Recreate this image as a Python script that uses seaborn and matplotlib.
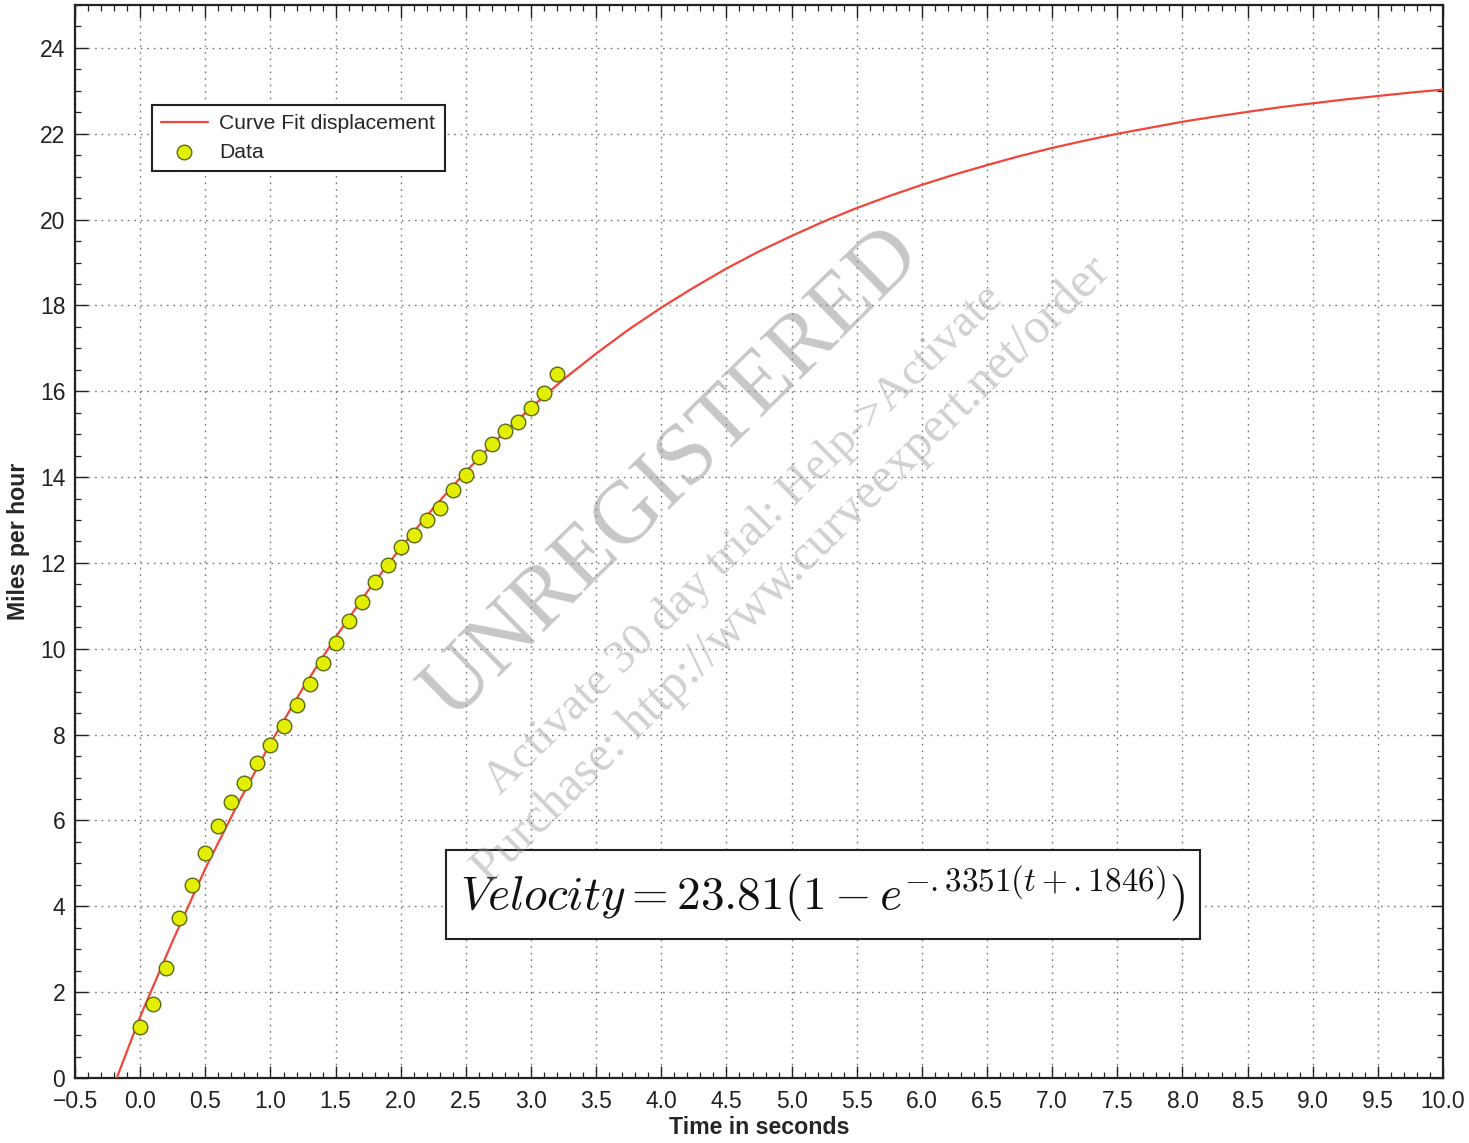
import numpy as np
import pandas as pd
import matplotlib
matplotlib.use("Agg")
import matplotlib.pyplot as plt
from matplotlib.ticker import MultipleLocator, FuncFormatter
import seaborn as sns

# ---- data ----
data_t = [0.0, 0.1, 0.2, 0.3, 0.4, 0.5, 0.6, 0.7, 0.8, 0.9, 1.0, 1.1, 1.2, 1.3, 1.4, 1.5,
          1.6, 1.7, 1.8, 1.9, 2.0, 2.1, 2.2, 2.3, 2.4, 2.5, 2.6, 2.7, 2.8, 2.9, 3.0, 3.1, 3.2]
data_v = [1.19, 1.72, 2.56, 3.72, 4.49, 5.24, 5.87, 6.42, 6.87, 7.33, 7.75, 8.19, 8.68, 9.17,
          9.66, 10.13, 10.64, 11.08, 11.55, 11.96, 12.38, 12.64, 13.01, 13.29, 13.69, 14.04,
          14.46, 14.78, 15.08, 15.29, 15.62, 15.95, 16.41]

curve_t = [-0.18, 0.0, 0.25, 0.5, 0.75, 1.0, 1.25, 1.5, 1.75, 2.0, 2.25, 2.5, 2.75, 3.0,
           3.25, 3.5, 3.75, 4.0, 4.25, 4.5, 4.75, 5.0, 5.25, 5.5, 5.75, 6.0, 6.25, 6.5,
           6.75, 7.0, 7.25, 7.5, 7.75, 8.0, 8.25, 8.5, 8.75, 9.0, 9.25, 9.5, 9.75, 10.0]
curve_v = [0.0, 1.43, 3.20, 4.88, 6.39, 7.80, 9.09, 10.27, 11.36, 12.36, 13.28, 14.13,
           14.91, 15.62, 16.28, 16.88, 17.44, 17.95, 18.42, 18.86, 19.26, 19.62, 19.96,
           20.27, 20.55, 20.81, 21.05, 21.27, 21.48, 21.67, 21.84, 22.00, 22.14, 22.28,
           22.40, 22.51, 22.62, 22.71, 22.80, 22.88, 22.96, 23.03]

x_label = "Time in seconds"
y_label = "Miles per hour"
curve_label = "Curve Fit displacement"
data_label = "Data"
equation = r"$Velocity = 23.81(1-e^{-.3351(t+.1846)})$"

sns.set_theme(style="ticks")
plt.rcParams["font.family"] = ["Liberation Sans", "DejaVu Sans"]
plt.rcParams["mathtext.fontset"] = "cm"

fig = plt.figure(figsize=(14.69, 11.43), dpi=100)
ax = fig.add_axes([0.0511, 0.0569, 0.9312, 0.9387])

curve_df = pd.DataFrame({"t": curve_t, "v": curve_v})
data_df = pd.DataFrame({"t": data_t, "v": data_v})

sns.lineplot(data=curve_df, x="t", y="v", ax=ax, color="#f2453a", linewidth=1.6,
             label=curve_label, sort=False, zorder=3)
sns.scatterplot(data=data_df, x="t", y="v", ax=ax, color="#e3ee00", edgecolor="#5a6b10",
                linewidth=1.0, s=110, label=data_label, zorder=4)

ax.set_xlim(-0.5, 10.0)
ax.set_ylim(0, 25)
ax.xaxis.set_major_locator(MultipleLocator(0.5))
ax.xaxis.set_minor_locator(MultipleLocator(0.1))
ax.yaxis.set_major_locator(MultipleLocator(2))
ax.yaxis.set_minor_locator(MultipleLocator(0.5))
ax.xaxis.set_major_formatter(FuncFormatter(lambda v, p: f"{v:.1f}".replace("-", "\u2212")))
ax.yaxis.set_major_formatter(FuncFormatter(lambda v, p: f"{v:.0f}"))
ax.tick_params(which="both", direction="in", top=True, right=True, colors="#222222",
               labelsize=16.5, labelcolor="#222222")
ax.tick_params(which="major", length=9, width=1.0, pad=7)
ax.tick_params(which="minor", length=4.5, width=0.9)
ax.tick_params(axis="x", which="major", pad=9)
for sp in ax.spines.values():
    sp.set_linewidth(1.6)
    sp.set_color("#222222")

ax.grid(True, which="major", linestyle=(0, (1.2, 3.5)), color="#777777", linewidth=1.0)
ax.set_axisbelow(True)

ax.set_xlabel(x_label, fontsize=16.7, fontweight="bold", labelpad=2)
ax.set_ylabel(y_label, fontsize=16.7, fontweight="bold", labelpad=7)

leg = ax.legend(loc="upper left", bbox_to_anchor=(0.056, 0.907), borderaxespad=0,
                fontsize=15.2, frameon=True, fancybox=False, edgecolor="#222222",
                handlelength=2.2, handletextpad=0.55, borderpad=0.45, labelspacing=0.45)
leg.get_frame().set_linewidth(1.5)
leg.get_frame().set_facecolor("white")
leg.get_frame().set_alpha(1)

ax.text(0.547, 0.171, equation, transform=ax.transAxes, fontsize=34, ha="center",
        va="center", color="#111111", zorder=5,
        bbox=dict(boxstyle="square,pad=0.3", facecolor="white", edgecolor="#222222",
                  linewidth=1.5))

# watermark (drawn over everything, semi-transparent)
serif = ["Liberation Serif", "DejaVu Serif"]
ax.text(0.4365, 0.5635, "UNREGISTERED", transform=ax.transAxes, fontsize=63,
        family=serif, color="#909090", alpha=0.5, rotation=44.5,
        ha="center", va="center", zorder=7, rotation_mode="anchor")
ax.text(0.489, 0.502, "Activate 30 day trial: Help->Activate", transform=ax.transAxes,
        fontsize=34, family=serif, color="#909090", alpha=0.42,
        rotation=44.5, ha="center", va="center", zorder=7, rotation_mode="anchor")
ax.text(0.524, 0.473, "Purchase: http://www.curveexpert.net/order", transform=ax.transAxes,
        fontsize=36, family=serif, color="#909090", alpha=0.42,
        rotation=44.5, ha="center", va="center", zorder=7, rotation_mode="anchor")

fig.savefig("out.png", dpi=100)
